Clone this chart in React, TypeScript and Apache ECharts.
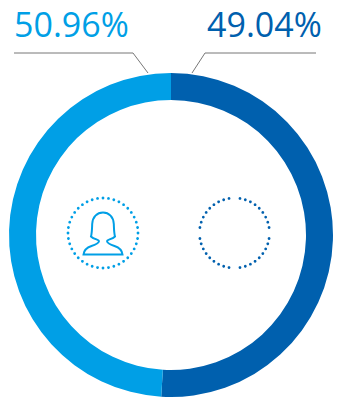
import React, { useEffect, useRef } from "react";
import * as echarts from "echarts";

const ringNames = ["Right arc", "Left arc"];
const ringValues = [50.96, 49.04];
const ringColors = ["#0060ae", "#009fe6"];
const labelTexts = ["50.96%", "49.04%"];
const LIGHT = "#009fe6";
const DARK = "#0060ae";
const LEADER = "#777777";

const personPath =
  "M83.5 254.5 L122.5 254.5 C122 250 119 247.5 114.5 246 C110 244.5 107 243 107 241 C107 239.5 112 239.5 115 236.5 C114 233 114 229 113.8 224 C113.5 217 109 212.5 103 212.5 C97 212.5 92.5 217 92.2 224 C92 229 92 233 91 236.5 C94 239.5 99 239.5 99 241 C99 243 96 244.5 91.5 246 C87 247.5 84 250 83.5 254.5 Z";
echarts.graphic.registerShape("personIcon", (echarts.graphic as any).extendPath(personPath, {}));

function dotRing(cx: number, cy: number, color: string, skipAxes: boolean) {
  const dots: any[] = [];
  for (let i = 0; i < 40; i++) {
    if (skipAxes && i % 10 === 0) continue;
    const a = (i * Math.PI) / 20;
    dots.push({
      type: "circle",
      shape: { cx: cx + 35 * Math.cos(a), cy: cy + 35 * Math.sin(a), r: 1.4 },
      style: { fill: color },
    });
  }
  return dots;
}

export default function App() {
  const ref = useRef<HTMLDivElement>(null);
  useEffect(() => {
    document.body.style.margin = "0";
    document.body.style.background = "#ffffff";
    const chart = echarts.init(ref.current!, undefined, { renderer: "svg" });
    chart.setOption({
      animation: false,
      backgroundColor: "#ffffff",
      series: [
        {
          type: "pie",
          silent: true,
          center: [171, 235],
          radius: [135, 162],
          startAngle: 90,
          clockwise: true,
          label: { show: false },
          labelLine: { show: false },
          data: ringNames.map((name, i) => ({
            name,
            value: ringValues[i],
            itemStyle: { color: ringColors[i] },
          })),
        },
      ],
      graphic: [
        {
          type: "text",
          x: 14,
          y: 7,
          style: { text: labelTexts[0], fill: LIGHT, font: '34px "Open Sans"' },
        },
        {
          type: "text",
          x: 207,
          y: 7,
          style: { text: labelTexts[1], fill: DARK, font: '34px "Open Sans"' },
        },
        {
          type: "polyline",
          shape: { points: [[14, 53], [133, 53], [148, 73]] },
          style: { stroke: LEADER, lineWidth: 1, fill: "none" },
        },
        {
          type: "polyline",
          shape: { points: [[316, 53], [205, 53], [192, 73]] },
          style: { stroke: LEADER, lineWidth: 1, fill: "none" },
        },
        ...dotRing(103, 233, LIGHT, false),
        ...dotRing(234.5, 233, DARK, true),
        {
          type: "personIcon",
          x: 0,
          y: 0,
          style: { fill: "none", stroke: LIGHT, lineWidth: 2 },
        },
      ],
    });
    return () => chart.dispose();
  }, []);
  return <div ref={ref} style={{ width: 342, height: 398 }} />;
}
